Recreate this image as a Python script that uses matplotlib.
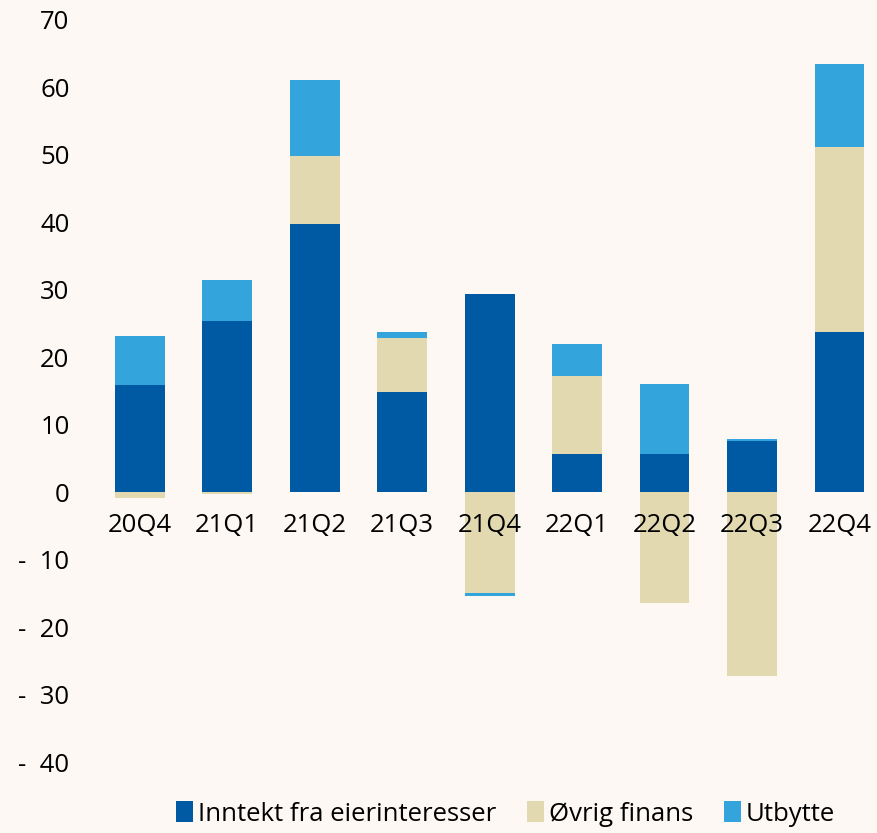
import matplotlib.pyplot as plt
import numpy as np

# Data
quarters = ['20Q4', '21Q1', '21Q2', '21Q3', '21Q4', '22Q1', '22Q2', '22Q3', '22Q4']
inntekt = [15.9, 25.4, 39.8, 14.8, 29.4, 5.6, 5.6, 7.6, 23.7]
ovrig = [-0.8, -0.3, 10.1, 8.0, -15.0, 11.6, -16.5, -27.2, 27.5]
utbytte = [7.2, 6.0, 11.2, 0.9, -0.4, 4.8, 10.4, 0.3, 12.3]

tick_vals = [-40, -30, -20, -10, 0, 10, 20, 30, 40, 50, 60, 70]

BG = '#FDF8F4'
C_INNTEKT = '#005AA3'
C_OVRIG = '#E2D9B1'
C_UTBYTTE = '#34A4DC'

plt.rcParams['font.family'] = ['Open Sans', 'DejaVu Sans']
FS = 18.5

fig = plt.figure(figsize=(8.78, 8.33), dpi=100, facecolor=BG)
ax = fig.add_axes([96 / 878, 71 / 833, (878 - 96) / 878, (762 - 20) / 833])
ax.set_facecolor(BG)

x = np.arange(len(quarters))
width = 0.57

pos_base = np.zeros(len(quarters))
neg_base = np.zeros(len(quarters))
for vals, color, label in [(inntekt, C_INNTEKT, 'Inntekt fra eierinteresser'),
                           (ovrig, C_OVRIG, 'Øvrig finans'),
                           (utbytte, C_UTBYTTE, 'Utbytte')]:
    vals = np.array(vals)
    bottoms = np.where(vals >= 0, pos_base, neg_base)
    ax.bar(x, vals, width, bottom=bottoms, color=color, label=label, zorder=2)
    pos_base = pos_base + np.where(vals >= 0, vals, 0)
    neg_base = neg_base + np.where(vals < 0, vals, 0)

ax.set_xlim(-0.5, 8.44)
ax.set_ylim(-40, 70)

ax.set_yticks(tick_vals)
ax.set_yticklabels([f'-  {abs(v)}' if v < 0 else str(v) for v in tick_vals], fontsize=FS)
ax.tick_params(axis='y', length=0, pad=19)
ax.set_xticks([])

for i, q in enumerate(quarters):
    ax.text(i, -5.0, q, ha='center', va='center', fontsize=FS, zorder=3)

for s in ax.spines.values():
    s.set_visible(False)

leg = fig.legend(loc='lower center', bbox_to_anchor=(0.576, -0.02), ncol=3, frameon=False,
                 fontsize=FS, handlelength=0.65, handleheight=0.85, handletextpad=0.2,
                 columnspacing=1.2)

fig.savefig('out.png', dpi=100, facecolor=BG)
